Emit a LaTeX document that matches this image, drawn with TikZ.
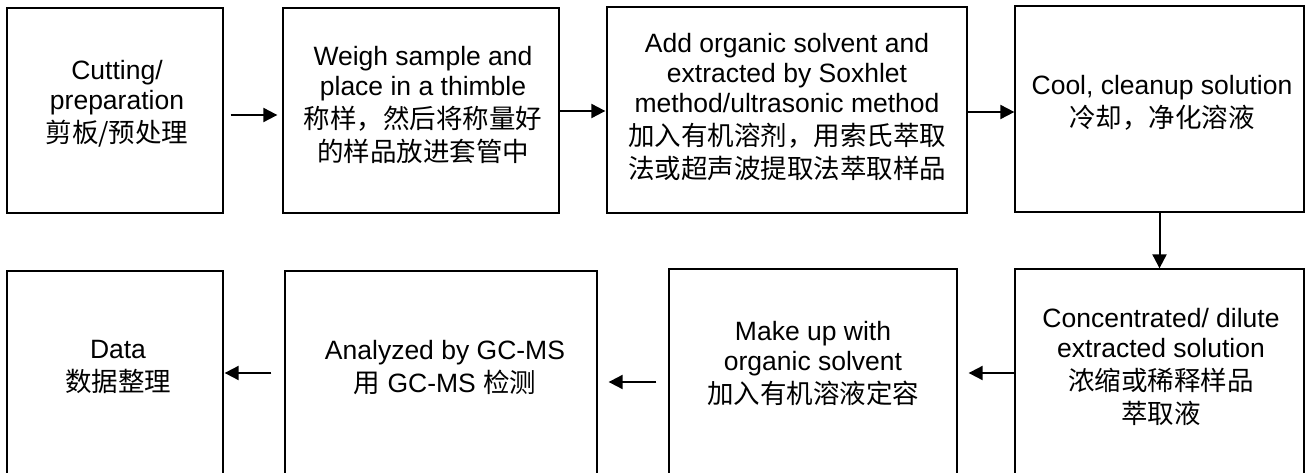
\documentclass[tikz,border=0pt]{standalone}
\usepackage{fontspec}
\setmainfont{Liberation Sans}
\newfontfamily\cjk{Noto Sans CJK SC}
\usetikzlibrary{arrows.meta}
\begin{document}
\begin{tikzpicture}[x=1pt,y=-1pt,
  box/.style={draw, line width=1.3pt, inner sep=0pt},
  txt/.style={align=center, font=\fontsize{26.5}{30}\selectfont, inner sep=0pt},
  arr/.style={line width=2pt, -{Triangle[length=14pt,width=14pt]}}]
\useasboundingbox (0,0) rectangle (1311,473);
\clip (0,0) rectangle (1311,473);
% boxes
\node[box, minimum width=216pt, minimum height=205pt] (b1) at (115,110.5) {};
\node[box, minimum width=276pt, minimum height=205pt] (b2) at (421,110.5) {};
\node[box, minimum width=360pt, minimum height=206pt] (b3) at (787,110) {};
\node[box, minimum width=289pt, minimum height=206pt] (b4) at (1159.5,109) {};
\node[box, minimum width=289pt, minimum height=231pt] (b5) at (1159.5,384.5) {};
\node[box, minimum width=288pt, minimum height=231pt] (b6) at (813,384.5) {};
\node[box, minimum width=312pt, minimum height=229pt] (b7) at (441,385.5) {};
\node[box, minimum width=216pt, minimum height=229pt] (b8) at (115,385.5) {};
% texts
\node[txt] (t1) at (117,104) {Cutting/\\preparation\\[3pt]{\cjk 剪板/预处理}};
\node[txt] (t2) at (423,105) {Weigh sample and\\place in a thimble\\[3pt]{\cjk 称样，然后将称量好}\\[3pt]{\cjk 的样品放进套管中}};
\node[txt] (t3) at (787,107.5) {Add organic solvent and\\extracted by Soxhlet\\method/ultrasonic method\\[3pt]{\cjk 加入有机溶剂，用索氏萃取}\\[3pt]{\cjk 法或超声波提取法萃取样品}};
\node[txt] (t4) at (1162,103) {Cool, cleanup solution\\[3pt]{\cjk 冷却，净化溶液}};
\node[txt] (t5) at (1161,366.5) {Concentrated/ dilute\\extracted solution\\[3pt]{\cjk 浓缩或稀释样品}\\[3pt]{\cjk 萃取液}};
\node[txt] (t6) at (813,363) {Make up with\\organic solvent\\[3pt]{\cjk 加入有机溶液定容}};
\node[txt] (t7) at (445,368) {Analyzed by GC-MS\\[3pt]{\cjk 用} GC-MS {\cjk 检测}};
\node[txt] (t8) at (118,367) {Data\\[3pt]{\cjk 数据整理}};
% arrow levels
\coordinate (ya) at (0,115);
\coordinate (yb) at (0,111);
\coordinate (yc) at (0,112);
\coordinate (yd) at (0,373);
\coordinate (ye) at (0,382);
% connectors
\draw[arr, shorten <=7pt, shorten >=5pt] (b1.east |- ya) -- (b2.west |- ya);
\draw[arr, shorten >=1pt] (b2.east |- yb) -- (b3.west |- yb);
\draw[arr] (b3.east |- yc) -- (b4.west |- yc);
\draw[arr] (b4.south) -- (b5.north);
\draw[arr, shorten >=11pt] (b5.west |- yd) -- (b6.east |- yd);
\draw[arr, shorten <=12pt, shorten >=11pt] (b6.west |- ye) -- (b7.east |- ye);
\draw[arr, shorten <=13pt, shorten >=1pt] (b7.west |- yd) -- (b8.east |- yd);
\end{tikzpicture}
\end{document}
